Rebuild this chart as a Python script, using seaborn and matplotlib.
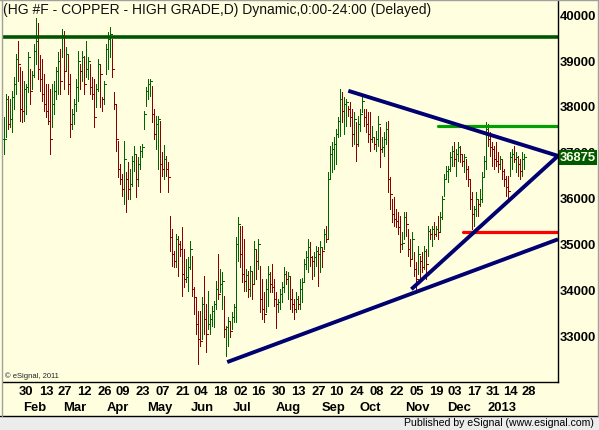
import numpy as np
import pandas as pd
import matplotlib
matplotlib.use("Agg")
import matplotlib.pyplot as plt
import seaborn as sns
from matplotlib.lines import Line2D
from matplotlib.patches import Rectangle
from matplotlib.transforms import blended_transform_factory

# daily bars, HG #F copper (price x 10000), Jan 17 2012 .. Jan 28 2013
high = [
    37760, 38260, 38220, 38150, 38330, 38630, 39130, 39420, 38850, 38760,
    38550, 38480, 39180, 38810, 38760, 39350, 39920, 39810, 39110, 39030,
    38700, 38480, 38480, 38370, 38480, 38550, 38850, 39180, 39240, 39680,
    39640, 39290, 39130, 38700, 37930, 38150, 38590, 39200, 38920, 39200,
    39090, 39420, 39070, 38920, 38630, 38590, 38480, 39030, 38920, 38200,
    38550, 39350, 39620, 39720, 39460, 38300, 38040, 37240, 36730, 36510,
    37240, 36560,
    36780, 36620, 36910, 37130, 36930, 36890, 37130, 37170, 37890, 38410,
    38590, 38590, 38440, 37930, 37780, 37780, 37670, 36990, 37150, 36910,
    36780, 35600, 35310, 34830, 35200, 35160, 35050, 35360, 34880, 34660,
    34700, 35050, 34720, 34050, 33830, 33520, 33520, 33830, 34290, 33680,
    33960, 33460, 33630, 33740, 34180, 34770, 34440, 34370, 33850, 33200,
    33390, 33280, 33500, 33680, 35140, 35580, 35380, 35380, 35100, 34440,
    34400, 34510, 34370, 35050, 34880, 35100,
    34510, 34220, 33940, 34220, 34510, 34370, 34550, 34220, 33940, 33790,
    34000, 34160, 34480, 34400, 34370, 34270, 34000, 33790, 33940, 33850,
    34220, 34250, 34660, 34830, 35100, 35030, 34720, 34810, 34940, 34920,
    35050, 34920, 35310, 35380, 36560, 37130, 37210, 37320, 37500, 37760,
    38370, 38300, 38200, 38150, 38000, 38090, 37930, 37870, 37650, 37780,
    37930, 38200, 37930, 37930, 37870, 37870, 37560, 37320, 37450, 37780,
    37540, 37320, 37430, 37650, 37670,
    36450, 35970, 36010, 35750, 35690, 35600, 35250, 35690, 35690, 35310,
    35100, 35250, 34810, 34590, 34940, 34720, 34810, 34940, 34880, 35380,
    35310, 35380, 35470, 35380, 35600, 35690, 36030, 36510, 36690, 36690,
    36990, 37130, 37210, 37060, 37210, 37130, 36950, 36950, 36840, 36690,
    36410, 36120, 35820, 36120, 35970, 36190, 36560, 36910, 37650, 37610,
    37430, 37210, 37130, 37210, 36990, 36910, 36840, 36620, 36470, 36470,
    36990, 37060, 37130, 36990, 36910, 36840, 36990, 36950,
]
low = [
    36950, 37320, 37500, 37540, 37430, 37930, 38260, 38550, 37670, 37650,
    37670, 37830, 38300, 38040, 38370, 38630, 38920, 38590, 38330, 38110,
    37890, 37760, 37610, 36950, 37540, 37830, 38150, 38260, 38260, 39070,
    38370, 38760, 38260, 37320, 37500, 37610, 37890, 38110, 38370, 38550,
    38260, 38630, 38590, 38260, 38150, 37540, 37980, 38330, 37980, 37890,
    38040, 38700, 38810, 39070, 38630, 37930, 37020, 36450, 36300, 36030,
    35860, 35690,
    35970, 35970, 36250, 36580, 36010, 36250, 36620, 36890, 37500, 38000,
    38150, 38220, 37650, 37280, 37060, 36620, 36120, 36470, 36410, 36470,
    36120, 34830, 34510, 34480, 34480, 34290, 34720, 33850, 34050, 34160,
    33960, 34440, 33850, 33460, 33020, 32370, 32760, 32910, 33020, 32630,
    33130, 33020, 33200, 33170, 33570, 33790, 33940, 33570, 32960, 32540,
    32760, 32960, 33130, 33280, 33280, 34620, 34480, 34160, 33960, 33960,
    33830, 33850, 33790, 34110, 34220, 34440,
    33500, 33350, 33280, 33500, 33630, 33940, 33940, 33630, 33150, 33500,
    33570, 33720, 33940, 34110, 33790, 33570, 33500, 33350, 33500, 33570,
    33570, 33720, 34160, 34440, 34370, 34510, 34220, 34290, 34510, 34070,
    34370, 34480, 34880, 35030, 35100, 36410, 36560, 36620, 36730, 37320,
    37340, 37650, 37390, 37560, 37780, 37560, 37130, 37170, 36800, 37130,
    37450, 37870, 37560, 37430, 37210, 37020, 37210, 37060, 37020, 37130,
    36670, 36990, 36910, 37170, 36120,
    35750, 35470, 35380, 35360, 35200, 34810, 34880, 35100, 35160, 34720,
    34510, 34660, 34290, 34000, 34330, 34220, 34370, 34440, 34220, 34720,
    35100, 34940, 35100, 35160, 35100, 35250, 35530, 36030, 36410, 36340,
    36580, 36690, 36690, 36470, 36800, 36780, 36690, 36560, 36410, 36250,
    35750, 35310, 35380, 35600, 35600, 35820, 35900, 36470, 36620, 37130,
    36910, 36690, 36620, 36690, 36560, 36620, 36410, 36250, 36030, 35970,
    36470, 36620, 36780, 36560, 36470, 36410, 36470, 36620,
]
close = [
    37280, 38150, 37610, 37720, 38200, 38480, 39030, 38920, 37930, 37890,
    38370, 38410, 39070, 38330, 38680, 39200, 39420, 38810, 38590, 38260,
    38040, 37890, 37670, 37280, 38040, 38330, 38760, 38980, 38550, 39550,
    38760, 39130, 38480, 37610, 37830, 38040, 38410, 38980, 38760, 39070,
    38480, 38810, 38980, 38410, 38260, 37760, 38370, 38920, 38700, 38150,
    38480, 39240, 39460, 39570, 38810, 38040, 37280, 36620, 36410, 36190,
    36840, 36410,
    36190, 36300, 36800, 36950, 36410, 36730, 37020, 37100, 37830, 38330,
    38480, 38550, 37830, 37390, 37610, 37720, 36730, 36620, 36840, 36620,
    36450, 35140, 34770, 34620, 35100, 34990, 34880, 34330, 34220, 34270,
    34480, 34880, 34000, 33830, 33240, 32910, 32870, 33680, 33350, 33020,
    33240, 33350, 33520, 33680, 34000, 33900, 34110, 34180, 33130, 33170,
    33300, 33090, 33390, 33610, 34990, 35420, 34770, 34330, 34180, 34310,
    34000, 34400, 34110, 34880, 34620, 34990,
    33790, 33570, 33460, 34000, 34330, 34110, 34050, 33790, 33680, 33720,
    33900, 34050, 34330, 34220, 34290, 33790, 33680, 33570, 33790, 33680,
    34000, 34160, 34550, 34700, 34920, 34700, 34620, 34700, 34830, 34770,
    34920, 34830, 35200, 35100, 36410, 36950, 37060, 37170, 37390, 37670,
    38150, 37890, 38040, 38090, 37930, 37760, 37390, 37720, 37170, 37610,
    37830, 38110, 37760, 37610, 37390, 37280, 37320, 37170, 37280, 37610,
    37060, 37100, 37280, 37500, 36410,
    36080, 35640, 35530, 35490, 35360, 34990, 35010, 35580, 35420, 34880,
    34660, 35100, 34440, 34220, 34770, 34620, 34480, 34830, 34550, 35270,
    35200, 35310, 35200, 35310, 35250, 35580, 35970, 36410, 36580, 36620,
    36890, 37020, 36840, 36950, 37100, 36950, 36800, 36890, 36620, 36410,
    35970, 35640, 35750, 35970, 35860, 35970, 36450, 36800, 37500, 37280,
    37100, 37060, 36840, 36800, 36730, 36840, 36580, 36410, 36230, 36140,
    36890, 36950, 36840, 36890, 36730, 36580, 36840, 36875,
]

holidays = ["2012-02-20", "2012-04-06", "2012-05-28", "2012-07-04", "2012-09-03",
            "2012-11-22", "2012-12-25", "2013-01-01", "2013-01-21"]
tick_days = ["30", "13", "27", "12", "26", "09", "23", "07", "21", "04", "18", "02", "16",
             "30", "13", "27", "10", "24", "08", "22", "05", "19", "03", "17", "31", "14", "28"]
month_names = ["Feb", "Mar", "Apr", "May", "Jun", "Jul", "Aug", "Sep", "Oct", "Nov", "Dec", "2013"]

# drawing tools on the chart: start bar, start price, end price (they run to the price scale)
top_level = 39500
green_level = (217, 37560)
red_level = (229.5, 35250)
upper_tl = (172, 38330, 36910)
inner_tl = (203.5, 34000, 36910)
base_tl = (111.5, 32410, 35090)
last_price = 36875

BG = "#FFFFE0"
UP = "#006400"
DN = "#8B0000"
NAVY = "#000070"

days = pd.bdate_range("2012-01-17", "2013-02-28")
days = days[~days.isin(pd.to_datetime(holidays))]
n = len(close)
x = np.arange(n)
opens = [close[0]] + close[:-1]
cols = [UP if c >= o else DN for c, o in zip(close, opens)]

def idx(d):
    return int(days.get_indexer([pd.Timestamp(d)])[0])

sns.set_theme(style="white")
plt.rcParams["font.family"] = ["Liberation Sans", "DejaVu Sans"]

fig = plt.figure(figsize=(5.99, 4.31), dpi=100, facecolor=BG)
ax = fig.add_axes([3 / 599, 48 / 431, 555 / 599, 381 / 431], facecolor=BG)
xr = 276.75
ax.set_xlim(-0.5, xr)
ax.set_ylim(31975, 40290)

# OHLC bars, crisp 1px like the eSignal screen
ax.vlines(x, low, high, colors=cols, lw=0.72, antialiased=False)
ax.hlines(opens, x - 0.8, x, colors=cols, lw=0.72, antialiased=False)
ax.hlines(close, x, x + 0.8, colors=cols, lw=0.72, antialiased=False)

# drawn lines
sns.lineplot(x=[-0.5, xr], y=[top_level, top_level], ax=ax, color="#005500", lw=2.6)
sns.lineplot(x=[green_level[0], xr], y=[green_level[1]] * 2, ax=ax, color="#00A000", lw=2.3)
sns.lineplot(x=[red_level[0], xr], y=[red_level[1]] * 2, ax=ax, color="#FF0000", lw=2.3)
for x0, p0, p1 in (upper_tl, inner_tl, base_tl):
    sns.lineplot(x=[x0, xr], y=[p0, p1], ax=ax, color=NAVY, lw=2.8,
                 solid_capstyle="butt")

# axes styling
for s in ("left", "top"):
    ax.spines[s].set_visible(False)
for s in ("right", "bottom"):
    ax.spines[s].set_color("black")
    ax.spines[s].set_linewidth(1.0)
ax.yaxis.tick_right()
ax.set_yticks(range(33000, 40001, 1000))
ax.set_yticklabels([str(v) for v in range(33000, 40001, 1000)])
ax.tick_params(axis="y", length=0, pad=1.5, labelsize=9.4, labelcolor="black")
for t in ax.get_yticklabels():
    t.set_fontweight("bold")

tick_idx = [idx(d) for d in pd.date_range("2012-01-30", "2013-01-28", freq="14D")]
ax.set_xticks(tick_idx)
ax.set_xticklabels([])
ax.tick_params(axis="x", length=3, width=0.8, color="black", direction="out")

trans = blended_transform_factory(ax.transData, ax.transAxes)
for ti, lab in zip(tick_idx, tick_days):
    ax.annotate(lab, (ti, 0), xycoords=trans, xytext=(-3, -9), textcoords="offset pixels",
                ha="left", va="center", fontsize=9.4, fontweight="bold", color="black",
                annotation_clip=False)
month_idx = []
for m in pd.date_range("2012-02-01", "2013-01-01", freq="MS"):
    month_idx.append(int(np.searchsorted(days.values, np.datetime64(m))))
for mi, lab in zip(month_idx, month_names):
    ax.annotate(lab, (mi, 0), xycoords=trans, xytext=(-3, -25), textcoords="offset pixels",
                ha="left", va="center", fontsize=9.4, fontweight="bold", color="black",
                annotation_clip=False)

# last price box
ytrans = blended_transform_factory(ax.transAxes, ax.transData)
ax.annotate(str(last_price), (1, last_price), xycoords=ytrans, xytext=(2, 0),
            textcoords="offset pixels", ha="left", va="center", fontsize=9.4,
            fontweight="bold", color="#FFFFE8", annotation_clip=False, zorder=10,
            bbox=dict(boxstyle="square,pad=0.08", facecolor="#005A00", edgecolor="none"))

# texts
fig.text(3 / 599, 1 - 10 / 431, "(HG #F - COPPER - HIGH GRADE,D) Dynamic,0:00-24:00 (Delayed)",
         ha="left", va="center", fontsize=10, color="#111111")
fig.text(5 / 599, 1 - 376 / 431, "\u00a9 eSignal, 2011", ha="left", va="center",
         fontsize=5.5, color="#222222")

# status bar and frame
fig.patches.append(Rectangle((0, 0), 1, 14 / 431, transform=fig.transFigure,
                             facecolor="#ECECEC", edgecolor="none"))
fig.add_artist(Line2D([0, 1], [14.5 / 431] * 2, transform=fig.transFigure, color="black", lw=1))
fig.add_artist(Line2D([1.5 / 599] * 2, [14.5 / 431, 1], transform=fig.transFigure, color="#A0A0A0", lw=1))
fig.add_artist(Line2D([597.5 / 599] * 2, [14.5 / 431, 1], transform=fig.transFigure, color="#A0A0A0", lw=1))
fig.add_artist(Line2D([0, 1], [1 - 0.5 / 431] * 2, transform=fig.transFigure, color="#A0A0A0", lw=1))
fig.text(594 / 599, 1 - 423 / 431, "Published by eSignal (www.esignal.com)", ha="right",
         va="center", fontsize=7.6, color="black")

fig.savefig("out.png", dpi=100, facecolor=BG)
